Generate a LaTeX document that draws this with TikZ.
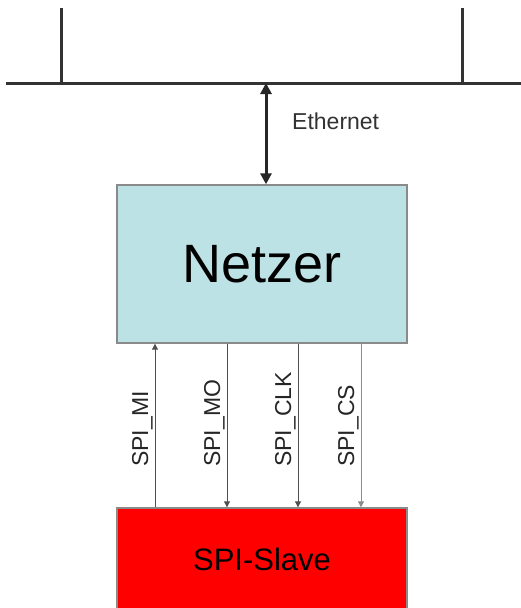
\documentclass[tikz,border=0pt]{standalone}
\usepackage{fontspec}
\setmainfont{Liberation Sans}
\usetikzlibrary{arrows.meta}
\definecolor{netzerfill}{HTML}{BDE2E5}
\definecolor{boxline}{HTML}{8A8A8A}
\definecolor{busline}{HTML}{333333}
\definecolor{spiline}{HTML}{505050}
\definecolor{spilight}{HTML}{8C8C8C}
\tikzset{
  blockbox/.style={draw=boxline, line width=1.4pt, inner sep=0pt, minimum width=290pt},
  busstyle/.style={draw=busline, line width=3pt},
  etharrow/.style={draw=black!85, line width=3pt, {Triangle[length=11pt,width=11pt]}-{Triangle[length=11pt,width=11pt]}},
  spiwire/.style={draw=spiline, line width=1pt},
  spiup/.style={spiwire, -{Triangle[length=6pt,width=6pt]}},
  spidown/.style={spiwire, -{Triangle[length=6pt,width=6pt]}},
  spilabel/.style={font=\fontsize{23}{23}\selectfont, rotate=90, anchor=south west, inner sep=0pt, text=black!85},
}
\begin{document}
\begin{tikzpicture}[x=1pt,y=-1pt]
\useasboundingbox[fill=white] (0,0) rectangle (520,608);
% bus
\coordinate (busL) at (6,83);
\coordinate (busR) at (522,83);
\coordinate (tapA) at (61,8);
\coordinate (tapB) at (462,8);
\coordinate (ethTop) at (266,83);
\draw[busstyle] (busL) -- (busR);
\draw[busstyle] (tapA) -- (tapA |- busL);
\draw[busstyle] (tapB) -- (tapB |- busL);
% blocks
\node[blockbox, fill=netzerfill, minimum height=158pt, font=\fontsize{54}{54}\selectfont] (netzer) at (262,264) {Netzer};
\node[blockbox, fill=red, minimum height=102pt, font=\fontsize{31}{31}\selectfont] (slave) at (262,559) {SPI-Slave};
% ethernet
\draw[etharrow] (ethTop) -- (ethTop |- netzer.north);
\node[font=\fontsize{23}{23}\selectfont, anchor=west, inner sep=0pt, text=black!80] (ethlabel) at (292,121) {Ethernet};
% SPI wires
\coordinate (xMI) at (155,0);
\coordinate (xMO) at (227,0);
\coordinate (xCLK) at (298,0);
\coordinate (xCS) at (361,0);
\draw[spiup] (xMI |- slave.north) -- (xMI |- netzer.south);
\draw[spidown] (xMO |- netzer.south) -- (xMO |- slave.north);
\draw[spidown] (xCLK |- netzer.south) -- (xCLK |- slave.north);
\draw[spidown, draw=spilight] (xCS |- netzer.south) -- (xCS |- slave.north);
% labels
\node[spilabel] (lMI) at (153,467) {SPI\_MI};
\node[spilabel] (lMO) at (225,467) {SPI\_MO};
\node[spilabel] (lCLK) at (296,467) {SPI\_CLK};
\node[spilabel] (lCS) at (359,467) {SPI\_CS};
\end{tikzpicture}
\end{document}
